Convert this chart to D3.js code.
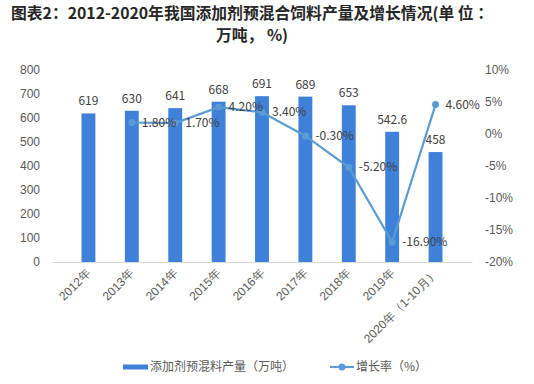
<!DOCTYPE html>
<html>
<head>
<meta charset="utf-8">
<script src="https://cdn.jsdelivr.net/npm/d3@7"></script>
<style>
  body { margin: 0; background: #fff; }
  svg { font-family: "Microsoft YaHei", "Noto Sans CJK SC", sans-serif; }
</style>
</head>
<body>
<div id="chart"></div>
<script>
// 数据
const categories = ['2012年', '2013年', '2014年', '2015年', '2016年', '2017年', '2018年', '2019年', '2020年（1-10月）'];
const output = [619, 630, 641, 668, 691, 689, 653, 542.6, 458];
const growth = [null, 1.8, 1.7, 4.2, 3.4, -0.3, -5.2, -16.9, 4.6];
const leftTicks = [0, 100, 200, 300, 400, 500, 600, 700, 800];
const rightTicks = [-20, -15, -10, -5, 0, 5, 10];

const width = 534, height = 384;
const margin = {top: 70, right: 62, bottom: 122, left: 52};
const innerW = width - margin.left - margin.right;
const innerH = height - margin.top - margin.bottom;

const svg = d3.select('#chart').append('svg')
  .attr('width', width).attr('height', height);

// 标题（两行）
svg.append('text')
  .attr('x', 252).attr('y', 19)
  .attr('text-anchor', 'middle')
  .attr('font-size', 15.8).attr('font-weight', 'bold').attr('fill', '#262626')
  .text('图表2：2012-2020年我国添加剂预混合饲料产量及增长情况(单 位 ：');
svg.append('text')
  .attr('x', 252).attr('y', 41)
  .attr('text-anchor', 'middle')
  .attr('font-size', 15.8).attr('font-weight', 'bold').attr('fill', '#262626')
  .text('万吨， %)');

const g = svg.append('g').attr('transform', `translate(${margin.left},${margin.top})`);

const x = d3.scaleBand().domain(categories).range([0, innerW]).padding(0.68);
const xc = d => x(d) + x.bandwidth() / 2;
const yL = d3.scaleLinear().domain([0, 800]).range([innerH, 0]);
const yR = d3.scaleLinear().domain([-20, 10]).range([innerH, 0]);

// 左轴
const yAxisL = g.append('g').call(d3.axisLeft(yL).tickValues(leftTicks).tickSize(0).tickPadding(12));
yAxisL.select('.domain').remove();
yAxisL.selectAll('text').attr('font-size', 12).attr('fill', '#595959');

// 右轴
const yAxisR = g.append('g').attr('transform', `translate(${innerW},0)`)
  .call(d3.axisRight(yR).tickValues(rightTicks).tickSize(0).tickPadding(13).tickFormat(d => d + '%'));
yAxisR.select('.domain').remove();
yAxisR.selectAll('text').attr('font-size', 12).attr('fill', '#595959');

// x轴
const xAxis = g.append('g').attr('transform', `translate(0,${innerH})`)
  .call(d3.axisBottom(x).tickSize(0).tickPadding(0));
xAxis.select('.domain').attr('stroke', '#d9d9d9');
xAxis.selectAll('text')
  .attr('font-size', 12).attr('fill', '#595959')
  .attr('text-anchor', 'end')
  .attr('dy', 0)
  .attr('transform', 'translate(3,12) rotate(-45)');

// 柱
g.selectAll('.bar').data(output).join('rect').attr('class', 'bar')
  .attr('x', (d, i) => x(categories[i]))
  .attr('y', d => yL(d))
  .attr('width', x.bandwidth())
  .attr('height', d => innerH - yL(d))
  .attr('fill', '#3f80d8');

g.selectAll('.barlabel').data(output).join('text').attr('class', 'barlabel')
  .attr('x', (d, i) => xc(categories[i]))
  .attr('y', d => yL(d) - 8)
  .attr('text-anchor', 'middle')
  .attr('font-size', 12).attr('fill', '#404040')
  .text(d => d);

// 折线
const pts = growth.map((v, i) => ({c: categories[i], v})).filter(d => d.v !== null);
const line = d3.line().x(d => xc(d.c)).y(d => yR(d.v));
g.append('path').datum(pts)
  .attr('d', line).attr('fill', 'none')
  .attr('stroke', '#5b9bd5').attr('stroke-width', 2.2);
g.selectAll('.pt').data(pts).join('circle').attr('class', 'pt')
  .attr('cx', d => xc(d.c)).attr('cy', d => yR(d.v)).attr('r', 3.5)
  .attr('fill', '#5b9bd5');
g.selectAll('.ptlabel').data(pts).join('text').attr('class', 'ptlabel')
  .attr('x', d => xc(d.c) + 10).attr('y', d => yR(d.v))
  .attr('dy', '0.35em')
  .attr('font-size', 12).attr('fill', '#404040')
  .text(d => d.v.toFixed(2) + '%');

// 图例
const lg = svg.append('g').attr('transform', 'translate(0,367)');
lg.append('rect').attr('x', 123).attr('y', -2.5).attr('width', 25).attr('height', 5).attr('fill', '#3f80d8');
lg.append('text').attr('x', 150).attr('y', 0).attr('dy', '0.35em')
  .attr('font-size', 12).attr('fill', '#595959').text('添加剂预混料产量（万吨）');
lg.append('line').attr('x1', 330).attr('x2', 354).attr('y1', 0).attr('y2', 0)
  .attr('stroke', '#5b9bd5').attr('stroke-width', 2.2);
lg.append('circle').attr('cx', 342).attr('cy', 0).attr('r', 3.5).attr('fill', '#5b9bd5');
lg.append('text').attr('x', 356).attr('y', 0).attr('dy', '0.35em')
  .attr('font-size', 12).attr('fill', '#595959').text('增长率（%）');
</script>
</body>
</html>
